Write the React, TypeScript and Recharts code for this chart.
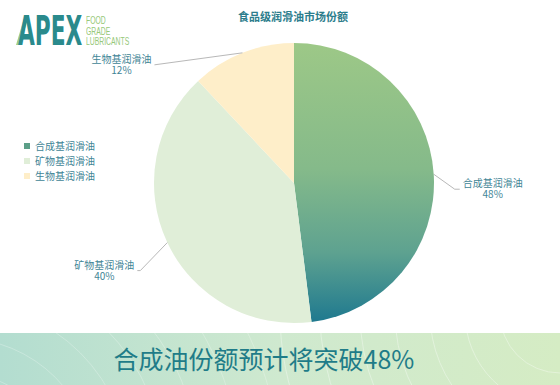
import { PieChart, Pie, Cell, Legend } from "recharts";

const names = ["合成基润滑油", "矿物基润滑油", "生物基润滑油"];
const shares = [48, 40, 12];
const colors = ["url(#synthGrad)", "#e0eed8", "#feeec9"];
const legendColors = ["#5c9f88", "#e0eed8", "#feeec9"];

const data = names.map((name, i) => ({ name, value: shares[i] }));

const FONT = "'Noto Sans CJK SC', 'Noto Sans', sans-serif";
const TEAL = "#2c7d8c";
const LABEL = "#3f8596";

// elbow offsets for the label lines, per slice
const bends = [
  { dx: 21, dy: 15, tail: 5 },
  { dx: -27, dy: 28, tail: -3 },
  { dx: -88, dy: 12, tail: 0 },
];

const RAD = Math.PI / 180;

function renderLabel(props: any) {
  const { cx, cy, midAngle, outerRadius, index, name, value } = props;
  const sx = cx + outerRadius * Math.cos(-midAngle * RAD);
  const sy = cy + outerRadius * Math.sin(-midAngle * RAD);
  const b = bends[index];
  const mx = sx + b.dx;
  const my = sy + b.dy;
  const ex = mx + b.tail;
  const right = b.dx > 0;
  // centre of the two-line label block
  const tc = right ? ex + 33 : ex - 33;
  return (
    <g>
      <polyline
        points={`${sx},${sy} ${mx},${my} ${ex},${my}`}
        fill="none"
        stroke="#b8b8b8"
        strokeWidth={1}
      />
      <text
        textAnchor="middle"
        fontSize={10}
        fill={LABEL}
        fontFamily={FONT}
      >
        <tspan x={tc} y={my - 2}>
          {name}
        </tspan>
        <tspan x={tc} y={my + 9}>
          {value}%
        </tspan>
      </text>
    </g>
  );
}

function LegendBox() {
  return (
    <div style={{ fontFamily: FONT, fontSize: 10, color: LABEL }}>
      {names.map((n, i) => (
        <div key={n} style={{ display: "flex", alignItems: "center", height: 15 }}>
          <span
            style={{
              width: 6,
              height: 6,
              background: legendColors[i],
              marginRight: 5,
              display: "inline-block",
            }}
          />
          {n}
        </div>
      ))}
    </div>
  );
}

function Logo() {
  return (
    <>
      <svg
        width={90}
        height={55}
        style={{ position: "absolute", left: 0, top: 0 }}
      >
        <polygon points="16,45 20,45 29,15 25,15" fill="#a6d07f" />
        <g transform="translate(18,45) scale(0.53,1)">
          <text
            x={0}
            y={0}
            fontSize={41}
            fontWeight={900}
            fontFamily="'DejaVu Sans', sans-serif"
            fill="#2a8a8c"
          >
            APEX
          </text>
        </g>
      </svg>
      <div
        style={{
          position: "absolute",
          left: 86,
          top: 15,
          fontFamily: "'Liberation Sans', sans-serif",
          fontSize: 11,
          lineHeight: "10.5px",
          color: "#96c879",
          transform: "scaleX(0.62)",
          transformOrigin: "0 0",
          whiteSpace: "nowrap",
        }}
      >
        <div>FOOD</div>
        <div>GRADE</div>
        <div>LUBRICANTS</div>
      </div>
    </>
  );
}

function Banner() {
  const rings = [60, 95, 130, 165, 200, 240, 280];
  return (
    <svg
      width={560}
      height={52}
      style={{ position: "absolute", left: 0, top: 333 }}
    >
      <defs>
        <linearGradient id="bannerGrad" x1="0" y1="0" x2="1" y2="0">
          <stop offset="0" stopColor="#b3ddd0" />
          <stop offset="0.5" stopColor="#cfe9cf" />
          <stop offset="1" stopColor="#d5ecc4" />
        </linearGradient>
      </defs>
      <rect x={0} y={0} width={560} height={52} fill="url(#bannerGrad)" />
      {rings.map((r) => (
        <circle
          key={r}
          cx={560}
          cy={-20}
          r={r}
          fill="none"
          stroke="#ffffff"
          strokeOpacity={0.35}
        />
      ))}
      {rings.map((r) => (
        <circle
          key={"l" + r}
          cx={-40}
          cy={140}
          r={r + 40}
          fill="none"
          stroke="#ffffff"
          strokeOpacity={0.25}
        />
      ))}
      <text
        x={264}
        y={36}
        textAnchor="middle"
        fontSize={25}
        fontFamily={FONT}
        fill="#1f7c88"
      >
        合成油份额预计将突破48%
      </text>
    </svg>
  );
}

export default function App() {
  return (
    <div
      style={{
        position: "absolute",
        left: 0,
        top: 0,
        width: 560,
        height: 385,
        background: "#ffffff",
        overflow: "hidden",
      }}
    >
      <PieChart
        width={560}
        height={385}
        margin={{ top: 0, right: 0, bottom: 0, left: 0 }}
      >
        <defs>
          <linearGradient id="synthGrad" x1="0" y1="0" x2="0" y2="1">
            <stop offset="0" stopColor="#9dc887" />
            <stop offset="0.45" stopColor="#85ba8a" />
            <stop offset="0.75" stopColor="#5ea290" />
            <stop offset="1" stopColor="#1f798f" />
          </linearGradient>
        </defs>
        <text
          x={293}
          y={21}
          textAnchor="middle"
          fontSize={11}
          fontWeight={700}
          fill={TEAL}
          fontFamily={FONT}
        >
          食品级润滑油市场份额
        </text>
        <Pie
          data={data}
          dataKey="value"
          nameKey="name"
          cx={294}
          cy={183}
          outerRadius={140}
          startAngle={90}
          endAngle={-270}
          stroke="none"
          label={renderLabel}
          labelLine={false}
          isAnimationActive={false}
        >
          {data.map((d, i) => (
            <Cell key={d.name} fill={colors[i]} />
          ))}
        </Pie>
        <Legend
          content={() => <LegendBox />}
          wrapperStyle={{ position: "absolute", left: 24, top: 138, width: 100 }}
        />
      </PieChart>
      <Logo />
      <Banner />
    </div>
  );
}
